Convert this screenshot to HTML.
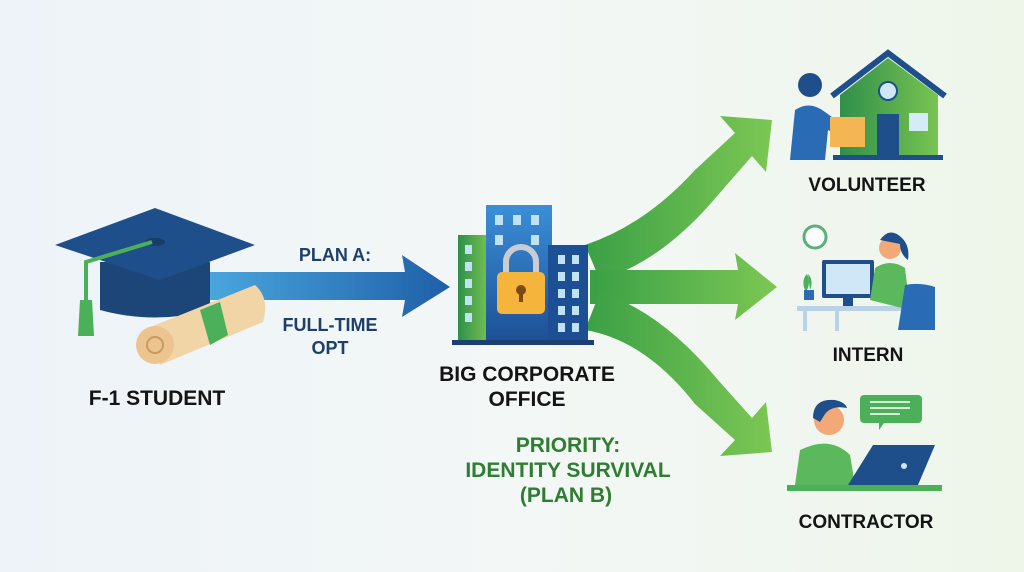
<!DOCTYPE html>
<html><head><meta charset="utf-8"><style>
html,body{margin:0;padding:0;width:1024px;height:572px;overflow:hidden}
body{background:linear-gradient(90deg,#edf3f8 0%,#f3f7f6 50%,#eef6ea 100%)}
text{font-family:"Liberation Sans",sans-serif;font-weight:bold}
</style></head><body>
<svg width="1024" height="572" viewBox="0 0 1024 572" xmlns="http://www.w3.org/2000/svg">
<defs>
<linearGradient id="ba" x1="0" x2="1"><stop offset="0" stop-color="#4aa6dd"/><stop offset="1" stop-color="#1f5fa8"/></linearGradient>
<linearGradient id="ga" x1="0" x2="1"><stop offset="0" stop-color="#3aa046"/><stop offset="1" stop-color="#7cc753"/></linearGradient>
<linearGradient id="tw" x1="0" x2="0" y1="0" y2="1"><stop offset="0" stop-color="#3b8fd8"/><stop offset="1" stop-color="#1d4f95"/></linearGradient>
<linearGradient id="hs" x1="0" x2="1"><stop offset="0" stop-color="#2f8f4a"/><stop offset="1" stop-color="#79c452"/></linearGradient>
</defs>
<!-- blue arrow -->
<path d="M210,272 L405,272 L402,255 L450,287 L402,317 L405,300 L210,300 Z" fill="url(#ba)"/>
<!-- cap -->
<path d="M100,262 L210,262 L210,310 Q155,325 100,310 Z" fill="#1d4678"/>
<path d="M55,245 L155,208 L255,245 L160,280 Z" fill="#1e4f8a"/>
<ellipse cx="155" cy="242" rx="10" ry="4" fill="#163d6c"/>
<path d="M152,242 L86,262 L86,300" stroke="#4cb05a" stroke-width="4" fill="none"/>
<path d="M80,300 L92,300 L94,336 L78,336 Z" fill="#4cb05a"/>
<!-- scroll -->
<path d="M148,328 L255,285 Q270,298 263,322 L160,365 Z" fill="#f1d5a6"/>
<circle cx="155" cy="345" r="19" fill="#ecc48f"/>
<circle cx="155" cy="345" r="8" fill="none" stroke="#c89a62" stroke-width="2"/>
<path d="M200,310 L220,302 L228,335 L210,345 Z" fill="#4cb05a"/>
<text x="335" y="261" font-size="18" fill="#1f3f6b" text-anchor="middle">PLAN A:</text>
<text x="330" y="331" font-size="18" fill="#1f3f6b" text-anchor="middle">FULL-TIME</text>
<text x="330" y="354" font-size="18" fill="#1f3f6b" text-anchor="middle">OPT</text>
<text x="157" y="405" font-size="21" fill="#141414" text-anchor="middle">F-1 STUDENT</text>
<!-- green arrows -->
<path d="M585,245 Q645,225 695,170 L735,133 L720,116 L772,120 L766,172 L752,156 L718,195 Q662,262 600,280 Z" fill="url(#ga)"/>
<path d="M590,270 L738,270 L735,253 L777,287 L735,320 L738,304 L590,304 Z" fill="url(#ga)"/>
<path d="M600,292 Q662,312 718,380 L752,418 L766,402 L772,452 L720,456 L735,440 L695,404 Q645,340 585,330 Z" fill="url(#ga)"/>
<!-- building -->
<rect x="458" y="235" width="32" height="108" fill="url(#hs)"/>
<rect x="486" y="205" width="66" height="138" fill="url(#tw)"/>
<rect x="548" y="245" width="40" height="98" fill="#1d4f95"/>
<g fill="#bfe2f5">
<rect x="465" y="245" width="7" height="9"/><rect x="465" y="262" width="7" height="9"/><rect x="465" y="279" width="7" height="9"/><rect x="465" y="296" width="7" height="9"/><rect x="465" y="313" width="7" height="9"/>
<rect x="495" y="215" width="8" height="10"/><rect x="513" y="215" width="8" height="10"/><rect x="531" y="215" width="8" height="10"/>
<rect x="495" y="235" width="8" height="10"/><rect x="531" y="235" width="8" height="10"/>
<rect x="558" y="255" width="7" height="9"/><rect x="572" y="255" width="7" height="9"/><rect x="558" y="272" width="7" height="9"/><rect x="572" y="272" width="7" height="9"/><rect x="558" y="289" width="7" height="9"/><rect x="572" y="289" width="7" height="9"/><rect x="558" y="306" width="7" height="9"/><rect x="572" y="306" width="7" height="9"/><rect x="558" y="323" width="7" height="9"/><rect x="572" y="323" width="7" height="9"/>
</g>
<rect x="452" y="340" width="142" height="5" fill="#1d3f72"/>
<path d="M506,275 V262 a15,15 0 0 1 30,0 V275" fill="none" stroke="#c9ccd0" stroke-width="6"/>
<rect x="497" y="272" width="48" height="42" rx="5" fill="#f5b53c"/>
<circle cx="521" cy="290" r="5" fill="#7a4a12"/><rect x="519" y="290" width="4" height="12" fill="#7a4a12"/>
<text x="527" y="381" font-size="21" fill="#141414" text-anchor="middle">BIG CORPORATE</text>
<text x="527" y="406" font-size="21" fill="#141414" text-anchor="middle">OFFICE</text>
<text x="568" y="452" font-size="21" fill="#2e7d32" text-anchor="middle">PRIORITY:</text>
<text x="568" y="477" font-size="21" fill="#2e7d32" text-anchor="middle">IDENTITY SURVIVAL</text>
<text x="566" y="502" font-size="21" fill="#2e7d32" text-anchor="middle">(PLAN B)</text>
<!-- volunteer -->
<path d="M840,95 L888,58 L938,95 L938,157 L840,157 Z" fill="url(#hs)"/>
<path d="M832,96 L888,53 L945,96" fill="none" stroke="#1e4f8a" stroke-width="6"/>
<circle cx="888" cy="91" r="9" fill="#cfe6f5" stroke="#1e4f8a" stroke-width="2"/>
<rect x="877" y="114" width="22" height="43" fill="#1e4f8a"/>
<rect x="909" y="113" width="19" height="18" fill="#d4ecf6"/>
<rect x="833" y="155" width="110" height="5" fill="#1e4f8a"/>
<circle cx="810" cy="85" r="12" fill="#1e4f8a"/>
<path d="M790,160 L795,110 Q810,100 825,112 L850,130 L845,140 L828,130 L825,160 Z" fill="#2a6bb5"/>
<rect x="830" y="117" width="35" height="30" fill="#f4b553"/>
<text x="867" y="191" font-size="19" fill="#141414" text-anchor="middle">VOLUNTEER</text>
<!-- intern -->
<circle cx="815" cy="237" r="11" fill="#fff" stroke="#5bb07a" stroke-width="3"/>
<rect x="822" y="260" width="52" height="38" rx="2" fill="#1e4f8a"/><rect x="826" y="264" width="44" height="30" fill="#cfe7f6"/>
<rect x="843" y="298" width="10" height="8" fill="#1e4f8a"/>
<rect x="797" y="306" width="130" height="5" fill="#b9d2e5"/>
<rect x="803" y="311" width="4" height="20" fill="#b9d2e5"/><rect x="835" y="311" width="4" height="20" fill="#b9d2e5"/>
<path d="M805,290 q-4,-10 2,-16 q4,8 0,16z M810,290 q4,-10 -2,-16" fill="#4cb05a"/>
<rect x="804" y="290" width="10" height="10" fill="#2a6bb5"/>
<circle cx="890" cy="248" r="11" fill="#f3a878"/>
<path d="M880,240 q10,-14 22,-2 q8,8 6,22 q-8,-6 -8,-16 z" fill="#1e4f8a"/>
<path d="M870,300 L875,268 Q890,258 905,268 L910,310 Z" fill="#5cb85c"/>
<path d="M905,285 Q920,282 935,287 L935,330 L898,330 Z" fill="#2a6bb5"/>
<text x="868" y="361" font-size="19" fill="#141414" text-anchor="middle">INTERN</text>
<!-- contractor -->
<path d="M864,395 h54 a4,4 0 0 1 4,4 v20 a4,4 0 0 1 -4,4 h-34 l-5,7 v-7 h-15 a4,4 0 0 1 -4,-4 v-20 a4,4 0 0 1 4,-4z" fill="#4cb05a"/>
<g stroke="#d8f0d8" stroke-width="2"><line x1="870" y1="402" x2="910" y2="402"/><line x1="870" y1="408" x2="910" y2="408"/><line x1="870" y1="414" x2="900" y2="414"/></g>
<circle cx="829" cy="420" r="15" fill="#f3a878"/>
<path d="M813,418 q0,-20 22,-18 q10,2 12,8 q-15,-3 -22,6 l-5,8z" fill="#1e4f8a"/>
<path d="M795,485 L800,450 Q830,435 850,455 L855,485 Z" fill="#5cb85c"/>
<path d="M848,485 L873,445 L935,445 L918,485 Z" fill="#1e4f8a"/>
<circle cx="904" cy="466" r="3" fill="#cfe6f5"/>
<rect x="787" y="485" width="155" height="6" fill="#4cb05a"/>
<text x="866" y="528" font-size="19" fill="#141414" text-anchor="middle">CONTRACTOR</text>
</svg>
</body></html>
